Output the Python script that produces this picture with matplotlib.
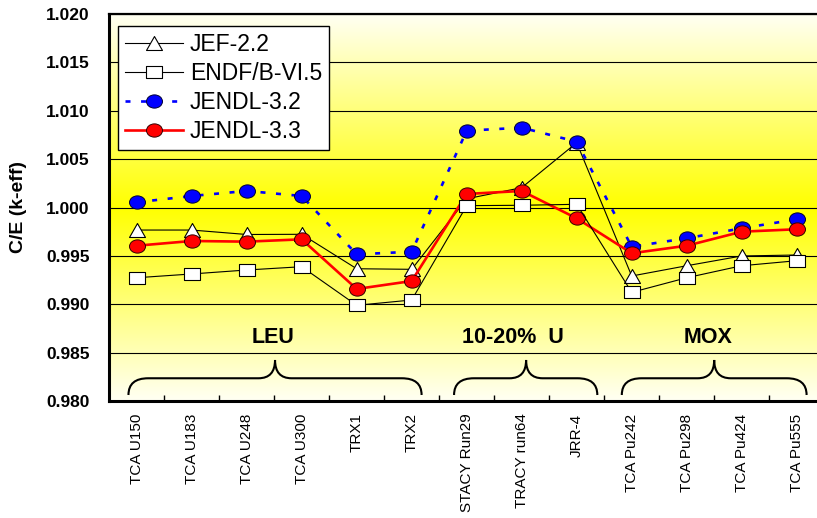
import numpy as np
import matplotlib
matplotlib.use("Agg")
import matplotlib.pyplot as plt
from matplotlib.path import Path
from matplotlib.patches import PathPatch
from matplotlib.ticker import FixedLocator, NullFormatter

# ---------------- data ----------------
categories = ["TCA U150", "TCA U183", "TCA U248", "TCA U300", "TRX1", "TRX2",
              "STACY Run29", "TRACY run64", "JRR-4",
              "TCA Pu242", "TCA Pu298", "TCA Pu424", "TCA Pu555"]

jef22 = [0.99767, 0.99767, 0.99721, 0.99723, 0.99367, 0.99361,
         1.00090, 1.00205, 1.00670,
         0.99292, 0.99398, 0.99499, 0.99509]
endf_b65 = [0.99274, 0.99313, 0.99354, 0.99388, 0.98989, 0.99044,
            1.00019, 1.00023, 1.00033,
            0.99123, 0.99274, 0.99398, 0.99450]
jendl32 = [1.00054, 1.00119, 1.00171, 1.00119, 0.99516, 0.99543,
           1.00794, 1.00825, 1.00680,
           0.99595, 0.99682, 0.99785, 0.99878]
jendl33 = [0.99605, 0.99654, 0.99647, 0.99671, 0.99158, 0.99240,
           1.00140, 1.00171, 0.99888,
           0.99527, 0.99605, 0.99750, 0.99775]

series_names = ["JEF-2.2", "ENDF/B-VI.5", "JENDL-3.2", "JENDL-3.3"]
group_labels = ["LEU", "10-20%  U", "MOX"]
y_ticks = [0.980, 0.985, 0.990, 0.995, 1.000, 1.005, 1.010, 1.015, 1.020]

# ---------------- style ----------------
plt.rcParams["font.family"] = ["Liberation Sans", "DejaVu Sans"]
plt.rcParams["lines.scale_dashes"] = False

fig = plt.figure(figsize=(8.17, 5.18), dpi=100)
fig.patch.set_facecolor("white")
ax = fig.add_axes([109.2 / 817, 117 / 518, 715 / 817, 387 / 518])

x = np.arange(len(categories))
ax.set_xlim(-0.5, len(categories) - 0.5)
ax.set_ylim(0.980, 1.020)

# background: yellow in the centre fading to ivory at top and bottom
yy = np.linspace(1.020, 0.980, 400)
t = np.clip(np.abs(yy - 1.000) / 0.020, 0, 1)[:, None]
yellow = np.array([1.0, 1.0, 0.0])
ivory = np.array([1.0, 1.0, 0.955])
grad = yellow * (1 - t) + ivory * t
ax.imshow(grad[:, None, :], extent=[-0.5, len(categories) - 0.5, 0.980, 1.020],
          aspect="auto", interpolation="bilinear", zorder=0)

# horizontal gridlines
for yv in y_ticks[1:]:
    ax.axhline(yv, color="black", lw=0.8, zorder=1)

# markers (slightly wider than tall)
circ = Path.unit_circle()
ellipse_m = Path(circ.vertices * np.array([1.0, 0.83]), circ.codes)
square_m = Path([(-1, -0.8), (1, -0.8), (1, 0.8), (-1, 0.8), (-1, -0.8)],
                [Path.MOVETO, Path.LINETO, Path.LINETO, Path.LINETO, Path.CLOSEPOLY])
tri_m = Path([(-1, -0.875), (1, -0.875), (0, 0.875), (-1, -0.875)],
             [Path.MOVETO, Path.LINETO, Path.LINETO, Path.CLOSEPOLY])

ms = 11.5
l_jef, = ax.plot(x, jef22, color="black", lw=0.8, marker=tri_m, ms=ms,
                 mfc="white", mec="black", mew=0.8, zorder=3, label=series_names[0])
l_endf, = ax.plot(x, endf_b65, color="black", lw=0.8, marker=square_m, ms=ms,
                  mfc="white", mec="black", mew=0.8, zorder=6, label=series_names[1])
l_j32, = ax.plot(x, jendl32, color="#0000FF", lw=1.9, ls=(0, (3.6, 7.6)),
                 marker=ellipse_m, ms=ms, mfc="#0000FF", mec="#000033", mew=0.7,
                 zorder=4, label=series_names[2])
l_j33, = ax.plot(x, jendl33, color="#FF0000", lw=1.9, marker=ellipse_m, ms=ms,
                 mfc="#FF0000", mec="#330000", mew=0.7, zorder=5, label=series_names[3])

# axes, ticks
ax.set_yticks(y_ticks)
ax.set_yticklabels([f"{v:.3f}" for v in y_ticks], fontsize=12.5, fontweight="bold")
ax.tick_params(axis="y", length=0, pad=14)

ax.set_xticks(x)
ax.set_xticklabels(categories, rotation=90, fontsize=11)
ax.tick_params(axis="x", which="major", length=0, pad=9)
ax.xaxis.set_minor_locator(FixedLocator(np.arange(0.5, len(categories) - 0.5, 1.0)))
ax.xaxis.set_minor_formatter(NullFormatter())
ax.tick_params(axis="x", which="minor", direction="in", length=4, width=1, color="black")

ax.set_ylabel("C/E (k-eff)", fontsize=14, fontweight="bold")
ax.yaxis.label.set_verticalalignment("center")
ax.yaxis.set_label_coords(-(109.2 - 19) / 715, (401 - 207) / 387)

ax.spines["left"].set_linewidth(2.2)
ax.spines["bottom"].set_linewidth(2.2)
ax.spines["top"].set_linewidth(1.6)
ax.spines["right"].set_linewidth(1.6)
for s in ax.spines.values():
    s.set_zorder(7)


# group braces and labels
def brace(x0, x1, xp, yb=0.98062, yh=0.98235, yt=0.98424, r1=0.36, r2=0.30):
    verts = [(x0, yb), (x0, yh), (x0 + r1, yh), (xp - r2, yh),
             (xp, yh), (xp, yt), (xp, yh), (xp + r2, yh),
             (x1 - r1, yh), (x1, yh), (x1, yb)]
    codes = [Path.MOVETO, Path.CURVE3, Path.CURVE3, Path.LINETO,
             Path.CURVE3, Path.CURVE3, Path.CURVE3, Path.CURVE3,
             Path.LINETO, Path.CURVE3, Path.CURVE3]
    ax.add_patch(PathPatch(Path(verts, codes), fill=False, edgecolor="black",
                           lw=1.5, zorder=2))


brace(-0.15, 5.18, 2.515)
brace(5.77, 8.375, 7.08)
brace(8.82, 12.18, 10.5)

label_x = [2.48, 6.84, 10.39]
for gx, gl in zip(label_x, group_labels):
    ax.text(gx, 0.98658, gl, ha="center", va="center", fontsize=15.5,
            fontweight="bold", zorder=2)

leg = ax.legend(handles=[l_jef, l_endf, l_j32, l_j33], loc="upper left",
                bbox_to_anchor=(0.012, 0.969), borderaxespad=0, fontsize=16.5,
                handlelength=2.55, handletextpad=0.3, labelspacing=0.27,
                borderpad=0.3, fancybox=False, framealpha=1, edgecolor="black")
leg.get_frame().set_linewidth(1.0)
leg.set_zorder(8)

fig.savefig("out.png", dpi=100, facecolor="white")
